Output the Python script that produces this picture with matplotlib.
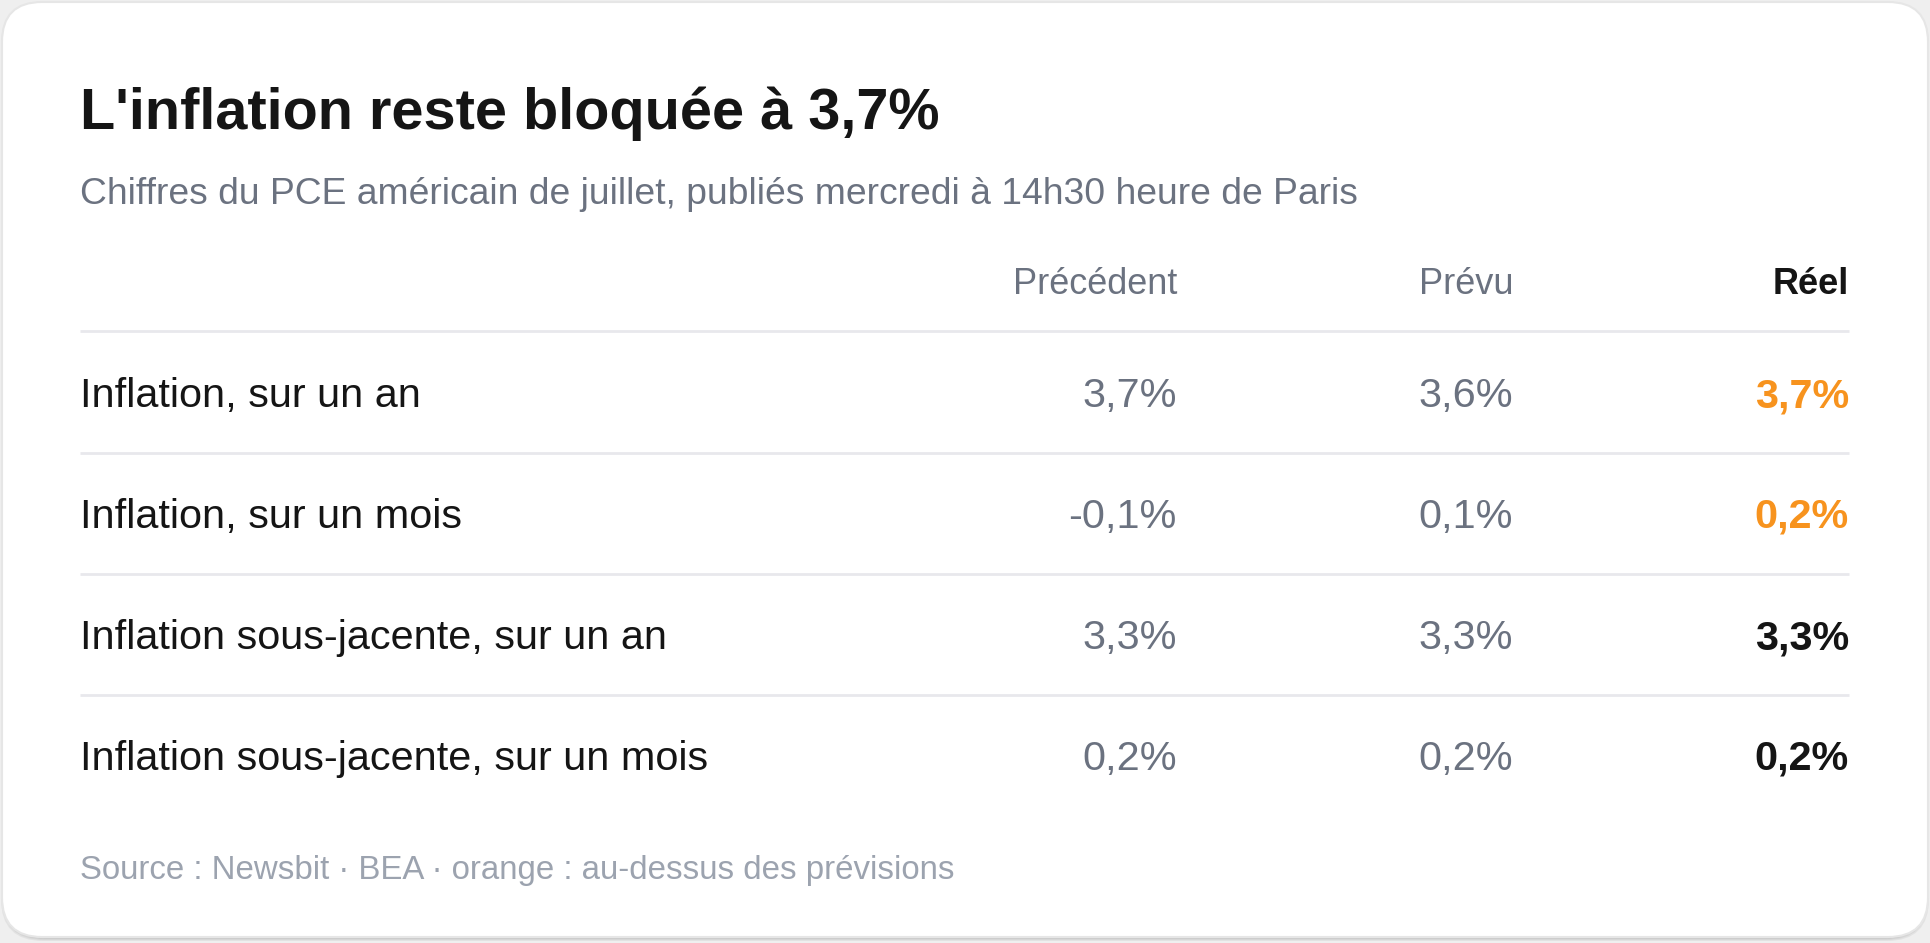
import matplotlib
matplotlib.use("Agg")
import matplotlib.pyplot as plt
from matplotlib.patches import FancyBboxPatch

# ---- data ----
title = "L'inflation reste bloquée à 3,7%"
subtitle = "Chiffres du PCE américain de juillet, publiés mercredi à 14h30 heure de Paris"
columns = ["Précédent", "Prévu", "Réel"]
row_labels = ["Inflation, sur un an", "Inflation, sur un mois",
              "Inflation sous-jacente, sur un an", "Inflation sous-jacente, sur un mois"]
previous = ["3,7%", "-0,1%", "3,3%", "0,2%"]
forecast = ["3,6%", "0,1%", "3,3%", "0,2%"]
actual = ["3,7%", "0,2%", "3,3%", "0,2%"]
above_forecast = [True, True, False, False]
footer = "Source : Newsbit · BEA · orange : au-dessus des prévisions"

plt.rcParams['font.family'] = ['Liberation Sans', 'DejaVu Sans']

W, H = 1930, 943
fig = plt.figure(figsize=(W / 100, H / 100), dpi=100)
fig.patch.set_facecolor("#efefef")
ax = fig.add_axes([0, 0, 1, 1])
ax.set_xlim(0, W)
ax.set_ylim(H, 0)
ax.axis("off")

# card shadow + card
for i, a in enumerate([0.05, 0.05, 0.05]):
    sh = FancyBboxPatch((3 - i, 4 - i), W - 6 + 2 * i, H - 8 + 2 * i,
                        boxstyle="round,pad=0,rounding_size=42",
                        fc=(0, 0, 0, a), ec="none", zorder=0)
    ax.add_patch(sh)
card = FancyBboxPatch((2, 2), W - 4, H - 8, boxstyle="round,pad=0,rounding_size=40",
                      fc="white", ec="#e6e6e6", lw=1.5, zorder=1)
ax.add_patch(card)

LX = 80
col_x = [1177, 1513, 1849]
DARK = "#151515"
GRAY = "#6b7280"
LIGHT = "#9ca3af"
ORANGE = "#f7931e"

ax.text(LX, 114, title, fontsize=41.5, fontweight="bold", color=DARK, va="center", ha="left", zorder=3)
ax.text(LX, 195, subtitle, fontsize=26.8, color=GRAY, va="center", ha="left", zorder=3)

header_y = 285
for j, c in enumerate(columns):
    if j == 2:
        ax.text(col_x[j], header_y, c, fontsize=26, fontweight="bold", color=DARK,
                ha="right", va="center", zorder=3)
    else:
        ax.text(col_x[j], header_y, c, fontsize=26, color=GRAY,
                ha="right", va="center", zorder=3)

line_y = [331, 453, 574, 695]
row_y = [396, 517, 638, 759]
for y in line_y:
    ax.plot([LX, col_x[2]], [y, y], color="#e8e8ec", lw=2, solid_capstyle="butt", zorder=2)

FS = 29.8
for i, lab in enumerate(row_labels):
    y = row_y[i]
    ax.text(LX, y, lab, fontsize=FS, color=DARK, ha="left", va="center", zorder=3)
    ax.text(col_x[0], y, previous[i], fontsize=FS, color=GRAY, ha="right", va="center", zorder=3)
    ax.text(col_x[1], y, forecast[i], fontsize=FS, color=GRAY, ha="right", va="center", zorder=3)
    ax.text(col_x[2], y, actual[i], fontsize=FS, fontweight="bold",
            color=ORANGE if above_forecast[i] else DARK, ha="right", va="center", zorder=3)

ax.text(LX, 870, footer, fontsize=23.8, color=LIGHT, ha="left", va="center", zorder=3)

fig.savefig("out.png", dpi=100, facecolor=fig.get_facecolor())
